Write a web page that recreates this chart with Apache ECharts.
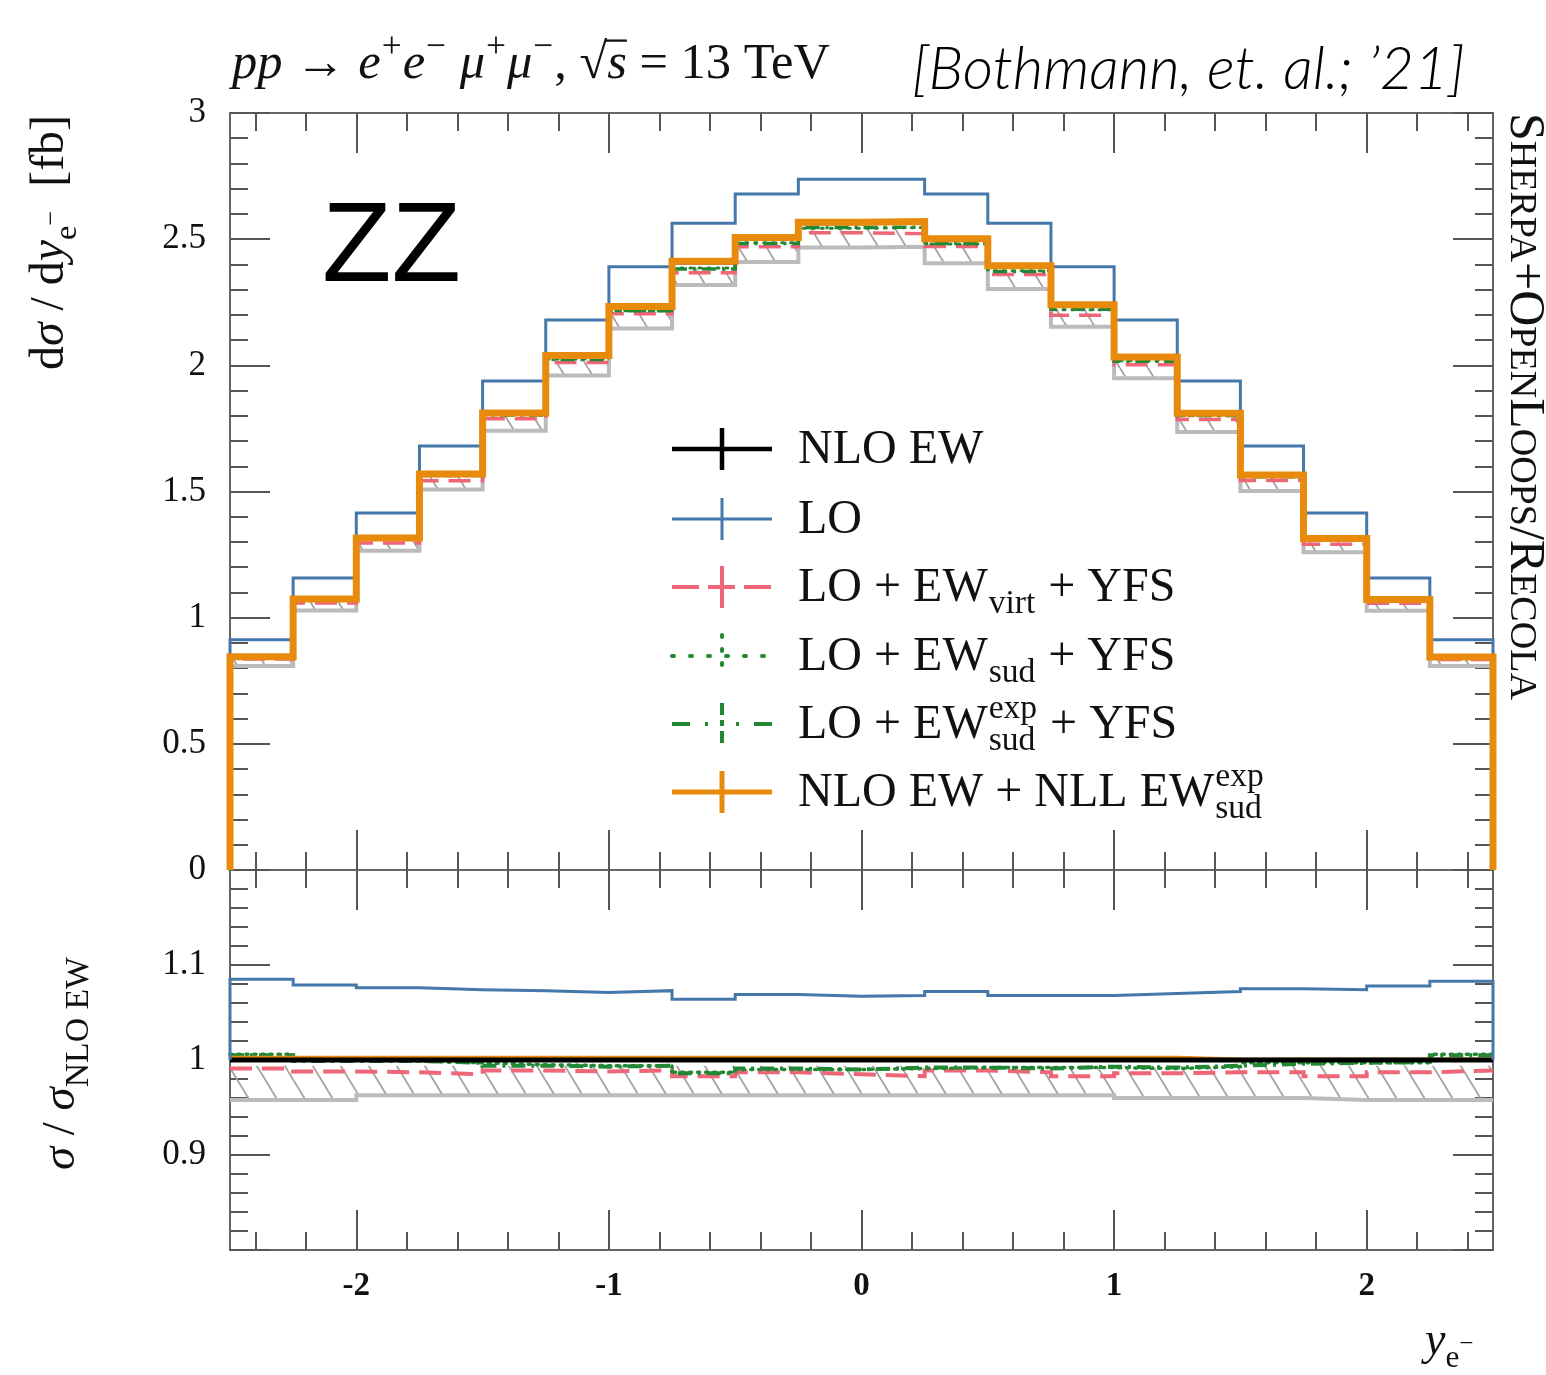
<!DOCTYPE html>
<html>
<head>
<meta charset="utf-8">
<script src="https://cdn.jsdelivr.net/npm/echarts@6/dist/echarts.min.js"></script>
<style>
html, body { margin: 0; padding: 0; background: #fff; }
#chart { width: 1546px; height: 1375px; }
</style>
</head>
<body>
<div id="chart"></div>
<script>
// ---- binning in the electron rapidity y_e- (lower bin edges) ----
const binLow = [-2.5, -2.25, -2.0, -1.75, -1.5, -1.25, -1.0, -0.75, -0.5, -0.25,
                0.0, 0.25, 0.5, 0.75, 1.0, 1.25, 1.5, 1.75, 2.0, 2.25];
const binWidth = 0.25;

// ---- dsigma/dy_e- [fb] ----
const nloEW     = [0.843, 1.071, 1.313, 1.566, 1.808, 2.035, 2.229, 2.408, 2.503, 2.563,
                   2.566, 2.498, 2.391, 2.236, 2.030, 1.808, 1.564, 1.313, 1.071, 0.843];
const lo        = [0.912, 1.157, 1.415, 1.680, 1.938, 2.180, 2.391, 2.563, 2.679, 2.737,
                   2.737, 2.679, 2.563, 2.391, 2.180, 1.938, 1.680, 1.415, 1.157, 0.912];
const virtYFS   = [0.836, 1.058, 1.296, 1.543, 1.788, 2.011, 2.204, 2.367, 2.470, 2.525,
                   2.522, 2.471, 2.360, 2.198, 2.002, 1.785, 1.544, 1.291, 1.057, 0.834];
const sudYFS    = [0.848, 1.070, 1.311, 1.563, 1.804, 2.025, 2.216, 2.386, 2.486, 2.543,
                   2.546, 2.481, 2.375, 2.220, 2.018, 1.800, 1.559, 1.309, 1.068, 0.847];
const sudExpYFS = [0.848, 1.071, 1.312, 1.563, 1.803, 2.023, 2.216, 2.382, 2.483, 2.546,
                   2.548, 2.483, 2.372, 2.222, 2.016, 1.801, 1.558, 1.309, 1.069, 0.848];
const nloNLL    = [0.845, 1.074, 1.316, 1.569, 1.811, 2.039, 2.233, 2.412, 2.507, 2.567,
                   2.570, 2.502, 2.395, 2.240, 2.033, 1.810, 1.565, 1.314, 1.072, 0.844];
const bandLow   = [0.808, 1.028, 1.265, 1.508, 1.741, 1.960, 2.146, 2.318, 2.410, 2.467,
                   2.470, 2.405, 2.303, 2.153, 1.949, 1.736, 1.502, 1.259, 1.027, 0.808];
const bandHigh  = [0.839, 1.065, 1.306, 1.557, 1.797, 2.022, 2.215, 2.392, 2.487, 2.547,
                   2.550, 2.483, 2.376, 2.221, 2.017, 1.797, 1.555, 1.305, 1.065, 0.839];

// ---- ratios to NLO EW ----
const rLO       = [1.085, 1.079, 1.076, 1.074, 1.073, 1.071, 1.073, 1.064, 1.069, 1.067,
                   1.068, 1.072, 1.068, 1.068, 1.070, 1.072, 1.075, 1.074, 1.078, 1.083];
const rNLO      = [1.000, 1.000, 1.000, 1.000, 1.000, 1.000, 1.000, 1.000, 1.000, 1.000,
                   1.000, 1.000, 1.000, 1.000, 1.000, 1.000, 1.000, 1.000, 1.000, 1.000];
const rVirt     = [0.991, 0.988, 0.987, 0.985, 0.989, 0.988, 0.989, 0.983, 0.987, 0.985,
                   0.983, 0.989, 0.987, 0.983, 0.986, 0.987, 0.987, 0.983, 0.987, 0.989];
const rSud      = [1.006, 1.000, 0.999, 0.997, 0.995, 0.994, 0.994, 0.987, 0.990, 0.990,
                   0.991, 0.992, 0.992, 0.992, 0.991, 0.993, 0.997, 0.997, 0.997, 1.006];
const rSudExp   = [1.005, 0.999, 0.999, 0.997, 0.994, 0.993, 0.994, 0.986, 0.991, 0.990,
                   0.992, 0.992, 0.991, 0.993, 0.992, 0.994, 0.996, 0.997, 0.998, 1.005];
const rNLL      = [1.003, 1.003, 1.003, 1.003, 1.003, 1.003, 1.003, 1.003, 1.003, 1.003,
                   1.003, 1.003, 1.003, 1.003, 1.003, 1.001, 1.001, 1.001, 1.001, 1.001];
const rBandLow  = [0.958, 0.958, 0.963, 0.963, 0.963, 0.963, 0.963, 0.963, 0.963, 0.963,
                   0.963, 0.963, 0.963, 0.963, 0.960, 0.960, 0.960, 0.958, 0.958, 0.958];
const rBandHigh = [0.994, 0.994, 0.994, 0.994, 0.994, 0.994, 0.994, 0.994, 0.994, 0.994,
                   0.994, 0.994, 0.994, 0.994, 0.994, 0.994, 0.994, 0.994, 0.994, 0.994];

// ---- axis tick labels ----
const xTickLabels = [-2, -1, 0, 1, 2];
const xMinorTicks = [];
for (let i = -12; i <= 12; i++) xMinorTicks.push(+(i * 0.2).toFixed(1));
const ratioTickLabels = ['0.9', '1', '1.1'];

// ---- styling ----
const SERIF = '"Liberation Serif", "DejaVu Serif", serif';
const SANS = '"Liberation Sans", "DejaVu Sans", sans-serif';
const C_BLUE = '#4477AA', C_RED = '#EE6677', C_GREEN = '#228833',
      C_ORANGE = '#E88A0B', C_GREY = '#BBBBBB', C_TICK = '#555';

// histogram outline: one point per lower bin edge, stepped to the right
function histo(vals, edge) {
  const pts = [];
  if (edge != null) pts.push([binLow[0], edge]);
  vals.forEach((v, i) => pts.push([binLow[i], v]));
  const xEnd = binLow[binLow.length - 1] + binWidth;
  pts.push([xEnd, vals[vals.length - 1]]);
  if (edge != null) pts.push([xEnd, edge]);
  return pts;
}
function band(low, high) {
  return low.map((v, i) => [binLow[i], binLow[i] + binWidth, v, high[i]]);
}

// diagonal hatching tile
const hc = document.createElement('canvas');
hc.width = 28; hc.height = 46;
const hg = hc.getContext('2d');
hg.strokeStyle = '#a3a3a3'; hg.lineWidth = 1.8;
[-28, 0, 28].forEach(ox => { hg.beginPath(); hg.moveTo(ox, 0); hg.lineTo(ox + 28, 46); hg.stroke(); });
const hatchFill = { image: hc, repeat: 'repeat' };

function hatchBand(data, xi, yi) {
  return {
    type: 'custom', xAxisIndex: xi, yAxisIndex: yi, data, z: 1, silent: true, clip: true,
    encode: { x: [0, 1], y: [2, 3] },
    renderItem: (params, api) => {
      const p0 = api.coord([api.value(0), api.value(3)]);
      const p1 = api.coord([api.value(1), api.value(2)]);
      return { type: 'rect',
        shape: { x: p0[0], y: p0[1], width: p1[0] - p0[0], height: p1[1] - p0[1] },
        style: { fill: hatchFill } };
    }
  };
}
function stepLine(name, data, xi, yi, color, width, type, z, cap) {
  return { type: 'line', name, data, xAxisIndex: xi, yAxisIndex: yi, step: 'end',
    showSymbol: false, symbol: 'none', silent: true, clip: true, z,
    lineStyle: { color, width, type: type || 'solid', cap: cap || 'butt', join: 'miter' } };
}

// ---- text composition with sub/superscripts ----
const mctx = document.createElement('canvas').getContext('2d');
function fontStr(style, weight, size, fam) { return style + ' ' + weight + ' ' + size.toFixed(2) + 'px ' + fam; }
function tw(text, style, weight, size, fam) { mctx.font = fontStr(style, weight, size, fam); return mctx.measureText(text).width; }

function layout(tokens, base) {
  let x = 0; const items = [];
  for (const tk of tokens) {
    const size = base.size * (tk.rel || 1);
    const style = tk.style || base.style || 'normal';
    const weight = tk.weight || base.weight || 'normal';
    const fam = base.family;
    const dy = (tk.dy || 0) * base.size;
    let w = 0;
    if (tk.t) { w = tw(tk.t, style, weight, size, fam); items.push({ text: tk.t, x, dy, size, style, weight, fam }); }
    if (tk.over) items.push({ line: true, x1: x - size * 0.04, x2: x + w, y: dy - size * 0.78, lw: Math.max(1.5, size * 0.045) });
    let extra = 0;
    const ss = size * (tk.scriptRel || 0.7);
    if (tk.sub) {
      const sw = tw(tk.sub, 'normal', weight, ss, fam);
      items.push({ text: tk.sub, x: x + w + size * 0.02, dy: dy + size * 0.24, size: ss, style: 'normal', weight, fam });
      extra = Math.max(extra, sw + size * 0.04);
    }
    if (tk.sup) {
      const sw = tw(tk.sup, tk.supStyle || 'normal', weight, ss, fam);
      items.push({ text: tk.sup, x: x + w + size * 0.02, dy: dy - size * 0.42, size: ss, style: tk.supStyle || 'normal', weight, fam });
      extra = Math.max(extra, sw + size * 0.04);
    }
    x += w + extra;
  }
  return { items, width: x };
}
function place(tokens, base, opts) {
  let lay = layout(tokens, base);
  if (opts.width) lay = layout(tokens, Object.assign({}, base, { size: base.size * opts.width / lay.width }));
  const color = opts.color || '#111';
  const children = lay.items.map(it => it.line
    ? { type: 'line', shape: { x1: it.x1, y1: it.y, x2: it.x2, y2: it.y }, style: { stroke: color, lineWidth: it.lw } }
    : { type: 'text', x: it.x, y: it.dy - 0.31 * it.size,
        style: { text: it.text, font: fontStr(it.style, it.weight, it.size, it.fam), fill: color, align: 'left', verticalAlign: 'middle' } });
  return { type: 'group', x: opts.x, y: opts.y, rotation: opts.rotation || 0, children, silent: true, z: 100 };
}

// ---- legend ----
const legendRows = [
  { tokens: [{ t: 'NLO EW' }], color: '#000', width: 4.5, dash: null, vdash: null },
  { tokens: [{ t: 'LO' }], color: C_BLUE, width: 3, dash: null, vdash: null },
  { tokens: [{ t: 'LO + EW', sub: 'virt' }, { t: ' + YFS' }], color: C_RED, width: 4, dash: [27, 9], vdash: null },
  { tokens: [{ t: 'LO + EW', sub: 'sud' }, { t: ' + YFS' }], color: C_GREEN, width: 4, dash: [2, 16], vdash: [2, 12], cap: 'round' },
  { tokens: [{ t: 'LO + EW', sup: 'exp', sub: 'sud' }, { t: ' + YFS' }], color: C_GREEN, width: 4, dash: [18, 15, 3, 28, 3, 15, 18], vdash: [12, 5, 6, 5, 12] },
  { tokens: [{ t: 'NLO EW + NLL EW', sup: 'exp', sub: 'sud' }], color: C_ORANGE, width: 5, dash: null, vdash: null }
];
const legendY = [449, 519, 587, 656, 724, 792];
const legendEls = [];
legendRows.forEach((row, i) => {
  const yc = legendY[i];
  const ls = { stroke: row.color, lineWidth: row.width, lineDash: row.dash, lineCap: row.cap || 'butt' };
  legendEls.push({ type: 'line', shape: { x1: 672, y1: yc, x2: 772, y2: yc }, style: ls, z: 100, silent: true });
  legendEls.push({ type: 'line', shape: { x1: 722, y1: yc - 21, x2: 722, y2: yc + 21 },
    style: { stroke: row.color, lineWidth: row.width, lineDash: row.vdash, lineCap: row.cap || 'butt' }, z: 100, silent: true });
  legendEls.push(place(row.tokens, { size: 48, family: SERIF }, { x: 798, y: yc + 16 }));
});

// ---- annotations ----
const titleEl = place([
  { t: 'pp ', style: 'italic' }, { t: '→ ' },
  { t: 'e', style: 'italic', sup: '+' }, { t: 'e', style: 'italic', sup: '−' },
  { t: ' μ', style: 'italic', sup: '+' }, { t: 'μ', style: 'italic', sup: '−' },
  { t: ', ' }, { t: '√' }, { t: 's', style: 'italic', over: true }, { t: ' = 13 TeV' }
], { size: 40, family: SERIF }, { x: 232, y: 80, width: 598 });

const citeEl = place([{ t: '[Bothmann, et. al.; ’21]' }],
  { size: 54, family: '"Lato", "Open Sans", sans-serif', style: 'italic', weight: 300 },
  { x: 912, y: 88, width: 553, color: '#000' });

const zzEl = place([{ t: 'ZZ' }], { size: 106, family: SANS }, { x: 322, y: 285, width: 139, color: '#000' });

const xNameEl = place([
  { t: 'y', style: 'italic' }, { t: 'e', rel: 0.68, dy: 0.28 }, { t: '−', rel: 0.55, dy: -0.08 }
], { size: 46, family: SERIF }, { x: 1425, y: 1356 });

const yNameMain = place([
  { t: 'd' }, { t: 'σ', style: 'italic' }, { t: ' / d' }, { t: 'y', style: 'italic' },
  { t: 'e', rel: 0.68, dy: 0.26 }, { t: '−', rel: 0.55, dy: -0.1 }, { t: '  [fb]' }
], { size: 40, family: SERIF }, { x: 65, y: 370, rotation: Math.PI / 2, width: 255 });

const yNameRatio = place([
  { t: 'σ', style: 'italic' }, { t: ' / ' }, { t: 'σ', style: 'italic' },
  { t: 'NLO EW', rel: 0.72, dy: 0.28 }
], { size: 44, family: SERIF }, { x: 76, y: 1170, rotation: Math.PI / 2, width: 213 });

const sideEl = place([
  { t: 'S' }, { t: 'HERPA', rel: 0.76 }, { t: '+' }, { t: 'O' }, { t: 'PEN', rel: 0.76 },
  { t: 'L' }, { t: 'OOPS', rel: 0.76 }, { t: '/' }, { t: 'R' }, { t: 'ECOLA', rel: 0.76 }
], { size: 46, family: SERIF }, { x: 1509, y: 113, rotation: -Math.PI / 2, width: 587 });

// ---- axes ----
const tickLine = { color: C_TICK, width: 2 };
function xTicks(grid, pos, values, len, labels) {
  return {
    type: 'value', gridIndex: grid, position: pos, min: -2.5, max: 2.5,
    axisLine: { show: false, onZero: false }, splitLine: { show: false },
    axisTick: { show: true, inside: true, length: len, customValues: values, lineStyle: tickLine },
    axisLabel: labels ? { show: true, customValues: xTickLabels, fontFamily: SERIF, fontWeight: 'bold',
      fontSize: 33, color: '#111', margin: 20, formatter: v => String(v) } : { show: false }
  };
}
function yAxisDef(grid, pos, min, max, interval, labels, formatter) {
  return {
    type: 'value', gridIndex: grid, position: pos, min, max, interval,
    axisLine: { show: false, onZero: false }, splitLine: { show: false },
    axisTick: { show: true, inside: true, length: 40, lineStyle: tickLine },
    minorTick: { show: true, splitNumber: 5, length: 18, lineStyle: tickLine },
    axisLabel: labels ? { show: true, fontFamily: SERIF, fontSize: 35, color: '#111', margin: 24, formatter } : { show: false }
  };
}
function ratioLabel(v) {
  const idx = [0.9, 1.0, 1.1].findIndex(t => Math.abs(t - v) < 1e-6);
  return idx >= 0 ? ratioTickLabels[idx] : '';
}

const option = {
  backgroundColor: '#fff',
  animation: false,
  grid: [
    { left: 230, top: 113, width: 1263, height: 757, show: true, borderColor: '#666', borderWidth: 2, backgroundColor: 'transparent' },
    { left: 230, top: 870, width: 1263, height: 380, show: true, borderColor: '#666', borderWidth: 2, backgroundColor: 'transparent' }
  ],
  xAxis: [
    xTicks(0, 'bottom', xMinorTicks, 18, false),
    xTicks(0, 'bottom', xTickLabels, 40, false),
    xTicks(0, 'top', xMinorTicks, 18, false),
    xTicks(0, 'top', xTickLabels, 40, false),
    xTicks(1, 'bottom', xMinorTicks, 18, false),
    xTicks(1, 'bottom', xTickLabels, 40, true),
    xTicks(1, 'top', xMinorTicks, 18, false),
    xTicks(1, 'top', xTickLabels, 40, false)
  ],
  yAxis: [
    yAxisDef(0, 'left', 0, 3, 0.5, true, v => String(v)),
    yAxisDef(0, 'right', 0, 3, 0.5, false),
    yAxisDef(1, 'left', 0.8, 1.2, 0.1, true, ratioLabel),
    yAxisDef(1, 'right', 0.8, 1.2, 0.1, false)
  ],
  series: [
    // upper panel
    hatchBand(band(bandLow, bandHigh), 0, 0),
    stepLine('band', histo(bandLow, 0), 0, 0, C_GREY, 4, 'solid', 2),
    stepLine('LO + EW_virt + YFS', histo(virtYFS, 0), 0, 0, C_RED, 3.5, [22, 10], 3),
    stepLine('LO + EW_sud + YFS', histo(sudYFS, 0), 0, 0, C_GREEN, 3, [2, 7], 4, 'round'),
    stepLine('LO + EW_sud^exp + YFS', histo(sudExpYFS, 0), 0, 0, C_GREEN, 3.5, [14, 6, 3, 6], 5),
    stepLine('NLO EW', histo(nloEW, 0), 0, 0, '#000', 4, 'solid', 6),
    stepLine('LO', histo(lo, 0), 0, 0, C_BLUE, 3, 'solid', 7),
    stepLine('NLO EW + NLL EW_sud^exp', histo(nloNLL, 0), 0, 0, C_ORANGE, 7, 'solid', 8),
    // ratio panel
    hatchBand(band(rBandLow, rBandHigh), 4, 2),
    stepLine('band ratio', histo(rBandLow), 4, 2, C_GREY, 4, 'solid', 2),
    stepLine('virt ratio', histo(rVirt), 4, 2, C_RED, 4, [22, 10], 3),
    stepLine('sud ratio', histo(rSud), 4, 2, C_GREEN, 3.5, [2, 6], 4, 'round'),
    stepLine('sud exp ratio', histo(rSudExp), 4, 2, C_GREEN, 4, [14, 6, 3, 6], 5),
    stepLine('NLL ratio', histo(rNLL), 4, 2, C_ORANGE, 3, 'solid', 6),
    stepLine('NLO ratio', histo(rNLO), 4, 2, '#000', 5, 'solid', 7),
    stepLine('LO ratio', histo(rLO, 1), 4, 2, C_BLUE, 3, 'solid', 8)
  ],
  graphic: { elements: [titleEl, citeEl, zzEl, xNameEl, yNameMain, yNameRatio, sideEl].concat(legendEls) }
};

const chart = echarts.init(document.getElementById('chart'), null, { renderer: 'canvas' });
chart.setOption(option);
</script>
</body>
</html>
